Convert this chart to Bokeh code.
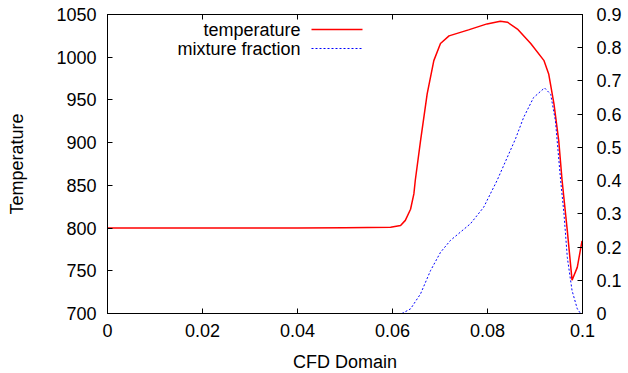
from bokeh.plotting import figure
from bokeh.models import (Range1d, LinearAxis, FixedTicker, CustomJSTickFormatter,
                          Label, Arrow)
from bokeh.embed import file_html
from bokeh.resources import INLINE

# --- data -------------------------------------------------------------
temp_x = [0.0, 0.02, 0.04, 0.05, 0.0596, 0.0617, 0.0627, 0.0638, 0.0645, 0.0648,
          0.0659, 0.0673, 0.0687, 0.0701, 0.0719, 0.0760, 0.0799, 0.0827, 0.0842,
          0.0863, 0.0891, 0.0919, 0.0929, 0.0940, 0.0950, 0.0957, 0.0968, 0.0978,
          0.0989, 0.0999]
temp_y = [800, 800, 800, 800.5, 801, 803, 809, 822, 840, 856,
          902, 957, 996, 1016, 1025, 1032, 1039, 1042, 1041,
          1033, 1016, 996, 980, 945, 902, 856, 797, 739,
          754, 785]

mf_x = [0.0620, 0.0638, 0.0659, 0.0680, 0.0701, 0.0722, 0.0764, 0.0792, 0.0820,
        0.0859, 0.0876, 0.0897, 0.0920, 0.0933, 0.0943, 0.0954, 0.0961, 0.0968,
        0.0978, 0.0989, 0.0996]
mf_y = [0.0, 0.014, 0.059, 0.129, 0.184, 0.22, 0.27, 0.32, 0.40,
        0.526, 0.59, 0.65, 0.679, 0.66, 0.58, 0.40, 0.30, 0.169,
        0.069, 0.014, 0.0]

x_ticks = [0, 0.02, 0.04, 0.06, 0.08, 0.1]
y_ticks = [700, 750, 800, 850, 900, 950, 1000, 1050]
y2_ticks = [0, 0.1, 0.2, 0.3, 0.4, 0.5, 0.6, 0.7, 0.8, 0.9]

series_names = ["temperature", "mixture fraction"]
x_label = "CFD Domain"
y_label = "Temperature"

FONT = "Liberation Sans"
FS = "18px"

p = figure(width=628, height=373, output_backend="svg", toolbar_location=None,
           x_range=Range1d(0, 0.1), y_range=Range1d(700, 1050),
           min_border_left=107, min_border_right=46, min_border_top=14,
           min_border_bottom=60)
p.frame_width = 475
p.frame_height = 299
p.extra_y_ranges = {"mf": Range1d(0, 0.9)}

p.grid.visible = False
p.outline_line_color = "black"
p.outline_line_width = 1
p.background_fill_color = "white"
p.border_fill_color = "white"

fmt = CustomJSTickFormatter(code="return String(Number(tick.toFixed(3)));")

def style_axis(ax, ticks, standoff):
    ax.ticker = FixedTicker(ticks=ticks)
    ax.formatter = fmt
    ax.major_tick_in = 5
    ax.major_tick_out = 0
    ax.minor_tick_line_color = None
    ax.axis_line_color = "black"
    ax.major_tick_line_color = "black"
    ax.major_label_text_font = FONT
    ax.major_label_text_font_size = FS
    ax.major_label_text_color = "black"
    ax.major_label_standoff = standoff
    ax.axis_label_text_font = FONT
    ax.axis_label_text_font_size = FS
    ax.axis_label_text_font_style = "normal"
    ax.axis_label_text_color = "black"

style_axis(p.xaxis[0], x_ticks, 10)
p.xaxis[0].axis_label = x_label
p.xaxis[0].axis_label_standoff = 12

style_axis(p.yaxis[0], y_ticks, 11)
p.yaxis[0].axis_label = y_label
p.yaxis[0].axis_label_standoff = 26

right = LinearAxis(y_range_name="mf")
style_axis(right, y2_ticks, 14)
p.add_layout(right, "right")

top = LinearAxis()
style_axis(top, x_ticks, 0)
top.major_label_text_font_size = "0px"
top.major_label_text_alpha = 0
p.add_layout(top, "above")

p.line(temp_x, temp_y, line_color="#ff0000", line_width=1.5)
p.line(mf_x, mf_y, line_color="#0000ff", line_width=1, line_dash="2 2",
       y_range_name="mf")

# legend (gnuplot style: label then sample on the right)
leg_styles = [dict(line_color="#ff0000", line_width=1.5, line_dash="solid"),
              dict(line_color="#0000ff", line_width=1, line_dash="2 2")]
for i, (name, st) in enumerate(zip(series_names, leg_styles)):
    yy = 284 - 19 * i
    p.add_layout(Label(x=193, y=yy, x_units="screen", y_units="screen", text=name,
                       text_font=FONT, text_font_size=FS, text_align="right",
                       text_baseline="middle", text_color="black"))
    p.add_layout(Arrow(x_start=204, y_start=yy, x_end=255, y_end=yy,
                       start_units="screen", end_units="screen", end=None, **st))

open("out.html", "w").write(file_html(p, INLINE))
